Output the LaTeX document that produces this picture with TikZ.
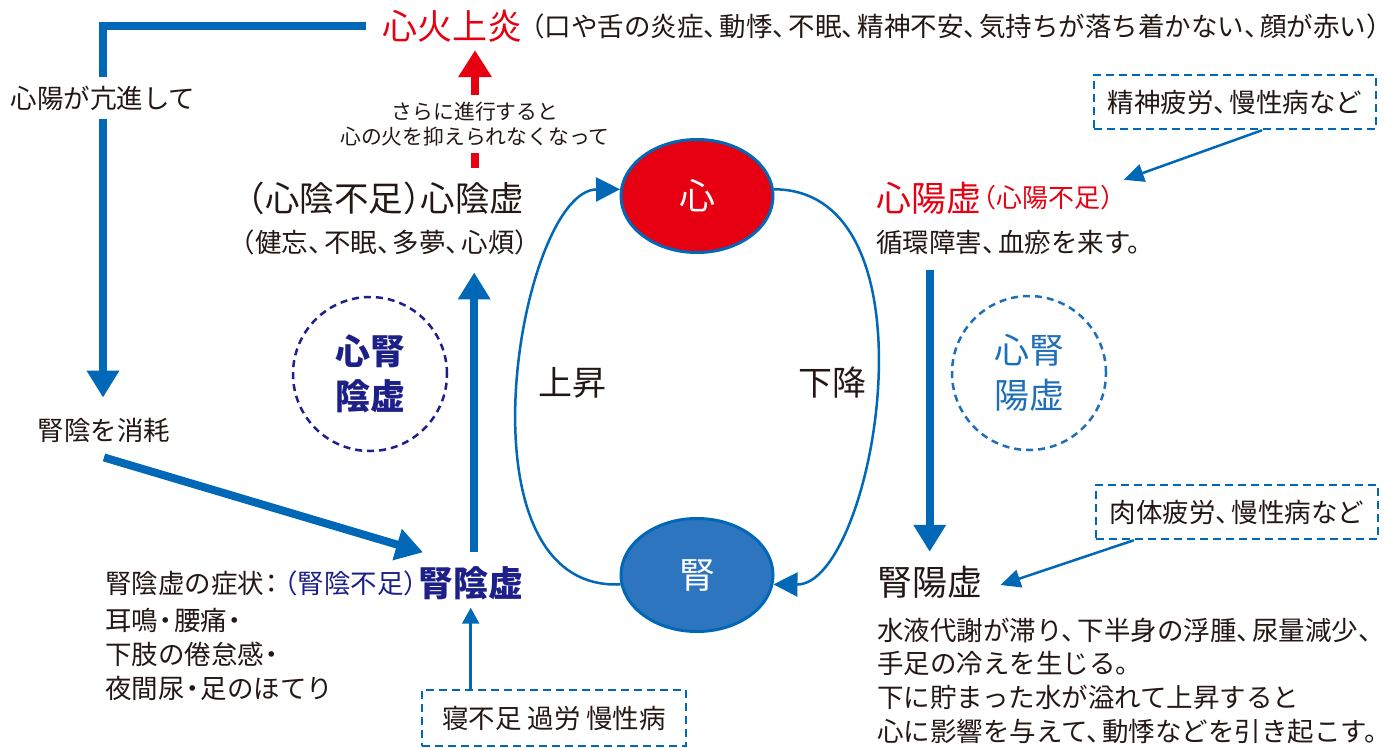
\documentclass[tikz,border=0pt]{standalone}
\usepackage{fontspec}
\setmainfont{Noto Sans CJK JP}
\usetikzlibrary{arrows.meta,shapes.geometric}
\definecolor{mblue}{HTML}{0068B7}
\definecolor{mred}{HTML}{E60012}
\definecolor{navy}{HTML}{1D2088}
\definecolor{ink}{HTML}{231815}
\definecolor{jinblue}{HTML}{2E75BF}
\definecolor{lblue}{HTML}{1F6EB8}
\newcommand\tcm{、\kern-0.4em}
\newcommand\kut{。\kern-0.4em}
\newcommand\lpa{\kern-0.5em（}
\newcommand\rpa{）\kern-0.5em}
\newcommand\nak{\kern-0.2em・\kern-0.2em}
\newcommand\kolon{\kern-0.2em：\kern-0.2em}
\tikzset{
  fs/.code={%
    \pgfmathsetmacro\myth{0.88*#1}%
    \pgfmathsetmacro\mytd{0.12*#1}%
    \edef\mytmp{\noexpand\tikzset{font=\noexpand\fontsize{#1pt}{#1pt}\noexpand\selectfont, text height=\myth pt, text depth=\mytd pt}}%
    \mytmp},
  tx/.style={inner sep=0pt, text=ink},
  bigarrow/.style={draw=mblue, line width=8pt, -{Triangle[length=27pt,width=31pt]}},
  bigline/.style={draw=mblue, line width=8pt},
  redarrow/.style={draw=mred, line width=8pt, -{Triangle[length=27pt,width=32pt]}},
  redline/.style={draw=mred, line width=8pt},
  thinarrow/.style={draw=mblue, line width=2.5pt, -{Triangle[length=20pt,width=18pt]}},
  thinup/.style={draw=mblue, line width=2.5pt, -{Triangle[length=16pt,width=17pt]}},
  curvearrow/.style={draw=mblue, line width=2.5pt, -{Triangle[length=24pt,width=24pt]}},
  dbox/.style={draw=mblue, line width=2.5pt, dash pattern=on 8pt off 5pt, inner sep=0pt, fs=26.5, text=ink},
  organ/.style={ellipse, draw=mblue, line width=3pt, minimum width=152pt, minimum height=113pt, inner sep=0pt, text=white, fs=36},
  dcircle/.style={circle, line width=2.5pt, dash pattern=on 7pt off 5pt, minimum size=154pt, inner sep=0pt, align=center},
}
\begin{document}
\begin{tikzpicture}[x=1pt,y=-1pt]
\fill[white] (0,0) rectangle (1397,747);
\useasboundingbox (0,0) rectangle (1397,747);

% top
\node[tx, fs=35, text=mred, anchor=west] (kaen) at (382,26) {心火上炎};
\node[tx, fs=26.5, anchor=west] (kaentxt) at ([xshift=9pt]kaen.east) {\lpa 口や舌の炎症\tcm 動悸\tcm 不眠\tcm 精神不安\tcm 気持ちが落ち着かない\tcm 顔が赤い\rpa};

% left column
\node[tx, fs=26.5, inner ysep=8pt, inner xsep=2pt] (koushin) at (103,98) {心陽が亢進して};
\node[tx, fs=26.5] (shomo) at (104,430) {腎陰を消耗};

\node[tx, fs=35, text=navy, anchor=west] (jinin) at (418,583) {\bfseries 腎陰虚};
\node[tx, fs=26.5, text=navy, anchor=east] (jininpar) at ([xshift=-1pt]jinin.west) {\lpa 腎陰不足\rpa};
\node[tx, fs=26.5, anchor=west] (shojo) at (105,583) {腎陰虚の症状\kolon};
\node[tx, fs=26.5, anchor=west] (s1) at (105,620) {耳鳴\nak 腰痛\nak};
\node[tx, fs=26.5, anchor=west] (s2) at (105,654) {下肢の倦怠感\nak};
\node[tx, fs=26.5, anchor=west] (s3) at (105,688) {夜間尿\nak 足のほてり};
\node[dbox, minimum width=264pt, minimum height=56pt] (box3) at (554,718) {寝不足 過労 慢性病};

\node[tx, fs=34.5] (shinin) at (386,198) {\lpa 心陰不足\rpa 心陰虚};
\node[tx, fs=26.5] (kenbo) at (385,242) {\lpa 健忘\tcm 不眠\tcm 多夢\tcm 心煩\rpa};
\node[tx, fs=20.8, inner ysep=6pt] (sarani1) at (475,112) {さらに進行すると};
\node[tx, fs=20.8, inner ysep=5pt] (sarani2) at (475,137) {心の火を抑えられなくなって};

\node[dcircle, draw=navy, text=navy, font=\fontsize{35pt}{45pt}\selectfont\bfseries] (sjin) at (370,374) {心腎\\陰虚};

% center
\node[organ, fill=mred] (shin) at (697,196) {心};
\node[organ, fill=jinblue] (jin) at (697,575) {腎};
\node[tx, fs=34] (joushou) at (572,383) {上昇};
\node[tx, fs=34] (kakou) at (832,383) {下降};

% right column
\node[tx, fs=35, text=mred, anchor=west] (shinyo) at (876,198) {心陽虚};
\node[tx, fs=26, text=mred, anchor=west] (shinyopar) at ([xshift=2pt]shinyo.east) {\lpa 心陽不足\rpa};
\node[tx, fs=26.5, anchor=west] (junkan) at (876,242) {循環障害\tcm 血瘀を来す\kut};
\node[dbox, minimum width=282pt, minimum height=54pt] (box1) at (1235,102) {精神疲労\tcm 慢性病など};
\node[dcircle, draw=lblue, text=lblue, font=\fontsize{35pt}{45pt}\selectfont] (sjyo) at (1029,373) {心腎\\陽虚};
\node[dbox, minimum width=282pt, minimum height=54pt] (box2) at (1237,512) {肉体疲労\tcm 慢性病など};
\node[tx, fs=35, anchor=west] (jinyo) at (877,582) {腎陽虚};
\node[tx, fs=26.5, anchor=west] (l1) at (877,630) {水液代謝が滞り\tcm 下半身の浮腫\tcm 尿量減少\tcm};
\node[tx, fs=26.5, anchor=west] (l2) at (877,663) {手足の冷えを生じる\kut};
\node[tx, fs=26.5, anchor=west] (l3) at (877,697) {下に貯まった水が溢れて上昇すると};
\node[tx, fs=26.5, anchor=west] (l4) at (877,731) {心に影響を与えて\tcm 動悸などを引き起こす\kut};

% connectors
\draw[bigline, shorten <=16pt] (kaen.west) -| (koushin.north);
\draw[bigarrow, shorten >=19pt] (koushin.south) -- (koushin.south |- shomo.north);
\draw[bigarrow] ([yshift=-14pt]shomo.south) -- ([xshift=5pt,yshift=13pt]jinin.north west);
\draw[bigarrow, shorten <=13.5pt, shorten >=17pt] ([xshift=3.5pt]jinin.north) -- ([xshift=3.5pt]jinin.north |- kenbo.south);
\draw[thinup, shorten >=7pt] (box3.north -| jinin.south) -- (jinin.south);
\draw[redarrow, shorten >=6.5pt] (sarani1.north) -- (sarani1.north |- kaen.south);
\draw[redline, shorten >=13pt] (sarani2.south) -- (sarani2.south |- shinin.north);

\draw[curvearrow] (jin.187) .. controls (450,592) and (520,190) .. (shin.175);
\draw[curvearrow] (shin.5) .. controls (944,190) and (874,585) .. (jin.353);

\draw[thinarrow] ([xshift=27pt]box1.south) -- ([xshift=10pt,yshift=5pt]shinyopar.north east);
\draw[bigarrow, shorten <=15pt, shorten >=12.5pt] (jinyo.north |- junkan.south) -- (jinyo.north);
\draw[thinarrow] ([xshift=39pt]box2.south west) -- ([xshift=18pt,yshift=-3pt]jinyo.east);
\end{tikzpicture}
\end{document}
